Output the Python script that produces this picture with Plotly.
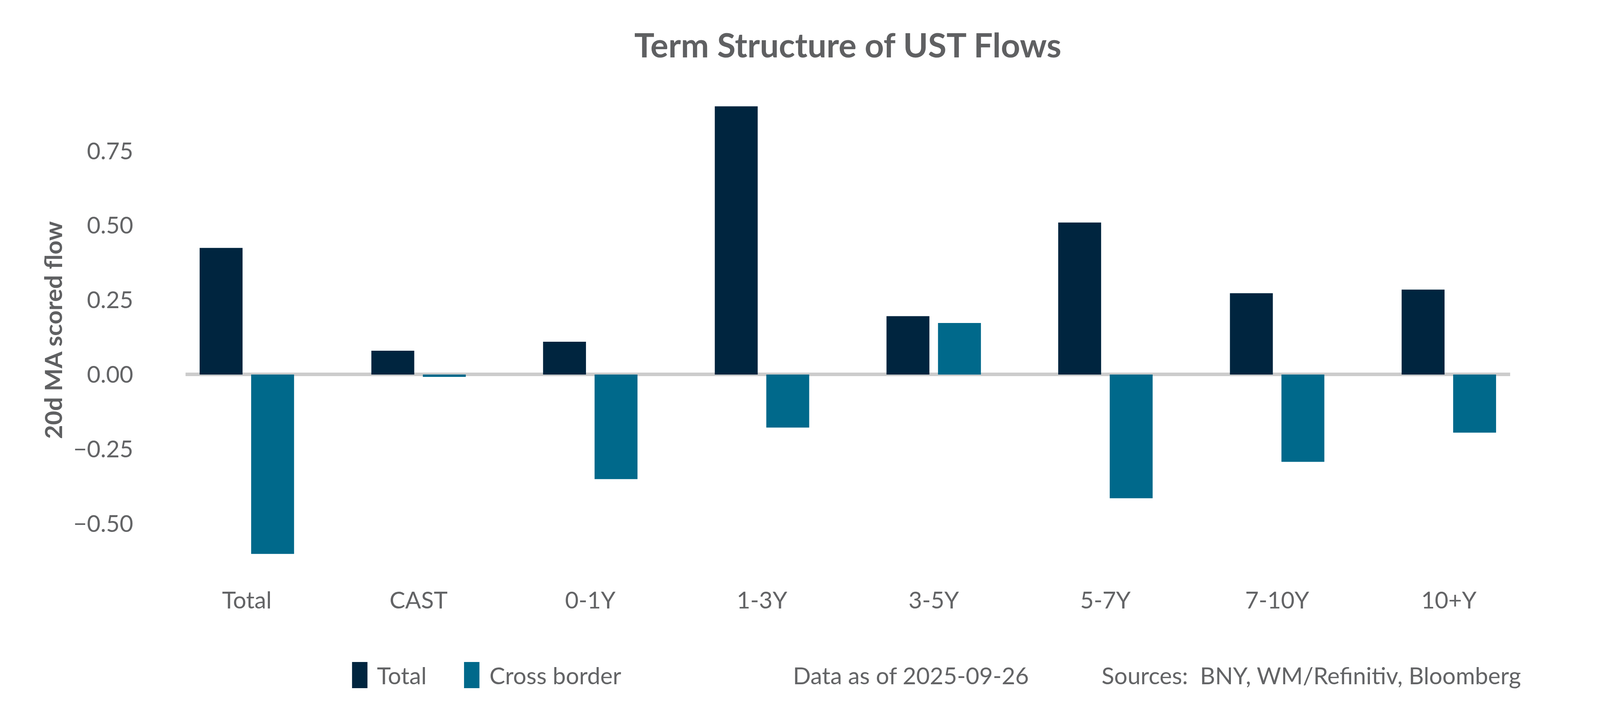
import plotly.graph_objects as go

categories = ["Total", "CAST", "0-1Y", "1-3Y", "3-5Y", "5-7Y", "7-10Y", "10+Y"]
total_vals = [0.425, 0.080, 0.110, 0.900, 0.196, 0.510, 0.273, 0.285]
cross_vals = [-0.602, -0.008, -0.351, -0.178, 0.173, -0.415, -0.293, -0.195]
y_ticks = [-0.5, -0.25, 0.0, 0.25, 0.5, 0.75]
y_tick_labels = ["\u22120.50", "\u22120.25", "0.00", "0.25", "0.50", "0.75"]

NAVY = "#00253F"
TEAL = "#00698B"
GRAY = "#636466"
TITLE_GRAY = "#5F6062"
FONT = "Lato"

# The browser viewport is 4096x1800 CSS px; reference layout was measured on 5400x1800.
RW, RH = 5400, 1800
W, H = 4096, 1800
KX = W / RW
F = 0.86  # font scale

# reference-pixel layout of the plot area
RL, RR, RT, RB = 626, 5097, 234, 1455
L, R, T, B = round(RL * KX), round(W - RR * KX), RT, RH - RB


def px_x(rx):
    return (rx - RL) / (RR - RL)


def px_y(ry):
    return (RB - ry) / (RB - RT)


fig = go.Figure()
fig.add_trace(go.Bar(x=categories, y=total_vals, name="Total",
                     marker=dict(color=NAVY, line=dict(width=0)), showlegend=False))
fig.add_trace(go.Bar(x=categories, y=cross_vals, name="Cross border",
                     marker=dict(color=TEAL, line=dict(width=0)), showlegend=False))

fs = round(70 * F)
fig.update_layout(
    width=W, height=H,
    margin=dict(l=L, r=R, t=T, b=B, pad=0),
    paper_bgcolor="white", plot_bgcolor="white",
    barmode="group", bargap=0.4, bargroupgap=0.167,
    font=dict(family=FONT, color=GRAY, size=fs),
    title=dict(text="<b>Term Structure of UST Flows</b>", x=0.5, xref="paper",
               y=1 - 117 / RH, yref="container", yanchor="middle", xanchor="center",
               font=dict(family=FONT, size=round(100 * F), color=TITLE_GRAY)),
    xaxis=dict(range=[-0.357, 7.357], showgrid=False, zeroline=False, showline=False,
               ticks="", tickfont=dict(size=fs, color=GRAY), ticklabelstandoff=42),
    yaxis=dict(range=[-0.65, 0.95], showgrid=False, zeroline=True, zerolinecolor="#CCCCCC",
               zerolinewidth=9, showline=False, ticks="",
               tickvals=y_ticks, ticktext=y_tick_labels,
               tickfont=dict(size=fs, color=GRAY),
               ticklabelstandoff=round((RL - 451) * KX)),
)

# y-axis title
fig.add_annotation(text="<b>20d MA scored flow</b>", xref="paper", yref="paper",
                   x=px_x(177), y=0.5, textangle=-90, showarrow=False,
                   xanchor="center", yanchor="middle",
                   font=dict(family=FONT, size=round(72 * F), color=TITLE_GRAY))

# custom legend + footer
legend_items = [("Total", NAVY, 1188, 1269), ("Cross border", TEAL, 1566, 1649)]
for name, col, mx, tx in legend_items:
    fig.add_shape(type="rect", xref="paper", yref="paper",
                  x0=px_x(mx), x1=px_x(mx + 52), y0=px_y(1762), y1=px_y(1695),
                  fillcolor=col, line=dict(width=0))
    fig.add_annotation(text=name, xref="paper", yref="paper", x=px_x(tx), y=px_y(1729),
                       showarrow=False, xanchor="left", yanchor="middle",
                       font=dict(family=FONT, size=fs, color=GRAY))

fig.add_annotation(text="Data as of 2025-09-26", xref="paper", yref="paper",
                   x=px_x((2699 + 3449) / 2), y=px_y(1729), showarrow=False, xanchor="center",
                   yanchor="middle", font=dict(family=FONT, size=fs, color=GRAY))
fig.add_annotation(text="Sources:\u00a0 BNY, WM/Refinitiv, Bloomberg", xref="paper", yref="paper",
                   x=px_x((3733 + 5118) / 2), y=px_y(1729), showarrow=False, xanchor="center",
                   yanchor="middle", font=dict(family=FONT, size=fs, color=GRAY))

fig.write_html("out.html", config={"displayModeBar": False},
               post_script="document.body.style.margin='0';")
